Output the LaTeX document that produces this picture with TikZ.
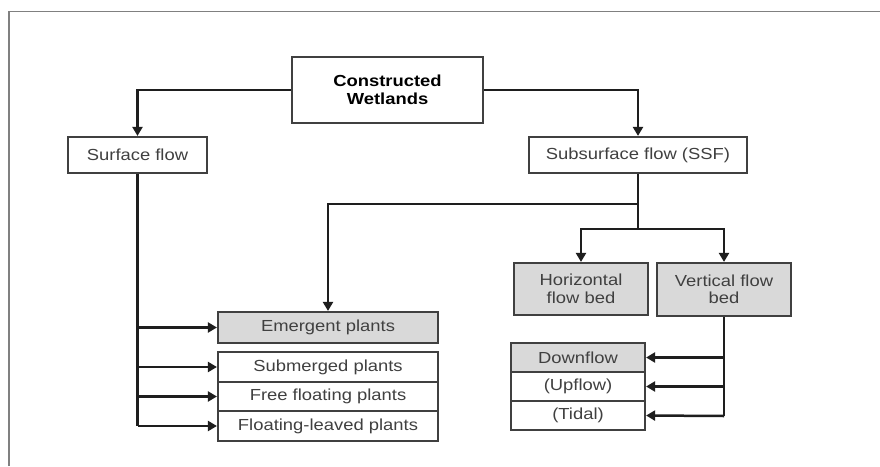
\documentclass[tikz,border=0pt]{standalone}
\usepackage{fontspec}
\setmainfont{Liberation Sans}[FakeStretch=1.15]
\usetikzlibrary{arrows.meta}
\definecolor{boxfill}{HTML}{D9D9D9}
\definecolor{txt}{HTML}{404040}
\definecolor{linec}{HTML}{1E1E1E}
\begin{document}
\begin{tikzpicture}[x=1pt,y=-1pt,
  box/.style={draw=linec!85!white, line width=2.2pt, rectangle, inner sep=0pt, align=center,
    font=\fontsize{16}{17.5}\selectfont, text=txt},
  grey/.style={box, fill=boxfill},
  conn/.style={draw=linec, line width=2.5pt},
  arr/.style={conn, -{Triangle[length=9pt,width=10pt]}}]
\useasboundingbox (0,0) rectangle (880,466);
\fill[white] (0,0) rectangle (880,466);
\draw[gray, line width=1.8pt] (9,466) -- (9,11.5) -- (880,11.5);

% nodes
\node[box, minimum width=191, minimum height=66, text=black, font=\fontsize{16}{17.5}\selectfont\bfseries] (cw) at (387.5,90) {Constructed\\Wetlands};
\node[box, minimum width=139, minimum height=36] (sf) at (137.5,155) {Surface flow};
\node[box, minimum width=218, minimum height=36] (ssf) at (638,155) {Subsurface flow (SSF)};
\node[grey, minimum width=134, minimum height=52] (hfb) at (581,289) {Horizontal\\flow bed};
\node[grey, minimum width=134, minimum height=53] (vfb) at (724,289.5) {Vertical flow\\bed};
\node[grey, minimum width=220, minimum height=31] (em) at (328,327.5) {Emergent plants};
\node[box, minimum width=220, minimum height=30] (sub) at (328,367) {Submerged plants};
\node[box, minimum width=220, minimum height=29] (ff) at (328,396.5) {Free floating plants};
\node[box, minimum width=220, minimum height=30] (fl) at (328,426) {Floating-leaved plants};
\node[grey, minimum width=134, minimum height=29] (down) at (578,357.5) {Downflow};
\node[box, minimum width=134, minimum height=29] (up) at (578,386.5) {(Upflow)};
\node[box, minimum width=134, minimum height=29] (tid) at (578,415.5) {(Tidal)};

% coordinates
\coordinate (sfbot) at (137.5,426);
\coordinate (ssfa) at (638,204);
\coordinate (ssfb) at (638,229);
\coordinate (vbot) at (724,416);

% connectors
\draw[arr] (cw.west) -| (sf.north);
\draw[arr] (cw.east) -| (ssf.north);
\draw[conn] (sf.south) -- (sfbot);
\draw[arr] (sf.south |- em.west) -- (em.west);
\draw[arr] (sf.south |- sub.west) -- (sub.west);
\draw[arr] (sf.south |- ff.west) -- (ff.west);
\draw[arr] (sfbot) -- (fl.west);
\draw[conn] (ssf.south) -- (ssfb);
\draw[arr] (ssfa) -| (em.north);
\draw[arr] (ssfb) -| (hfb.north);
\draw[arr] (ssfb) -| (vfb.north);
\draw[conn] (vfb.south) -- (vbot);
\draw[arr] (vfb.south |- down.east) -- (down.east);
\draw[arr] (vfb.south |- up.east) -- (up.east);
\draw[arr] (vbot) -- (tid.east);
\end{tikzpicture}
\end{document}
